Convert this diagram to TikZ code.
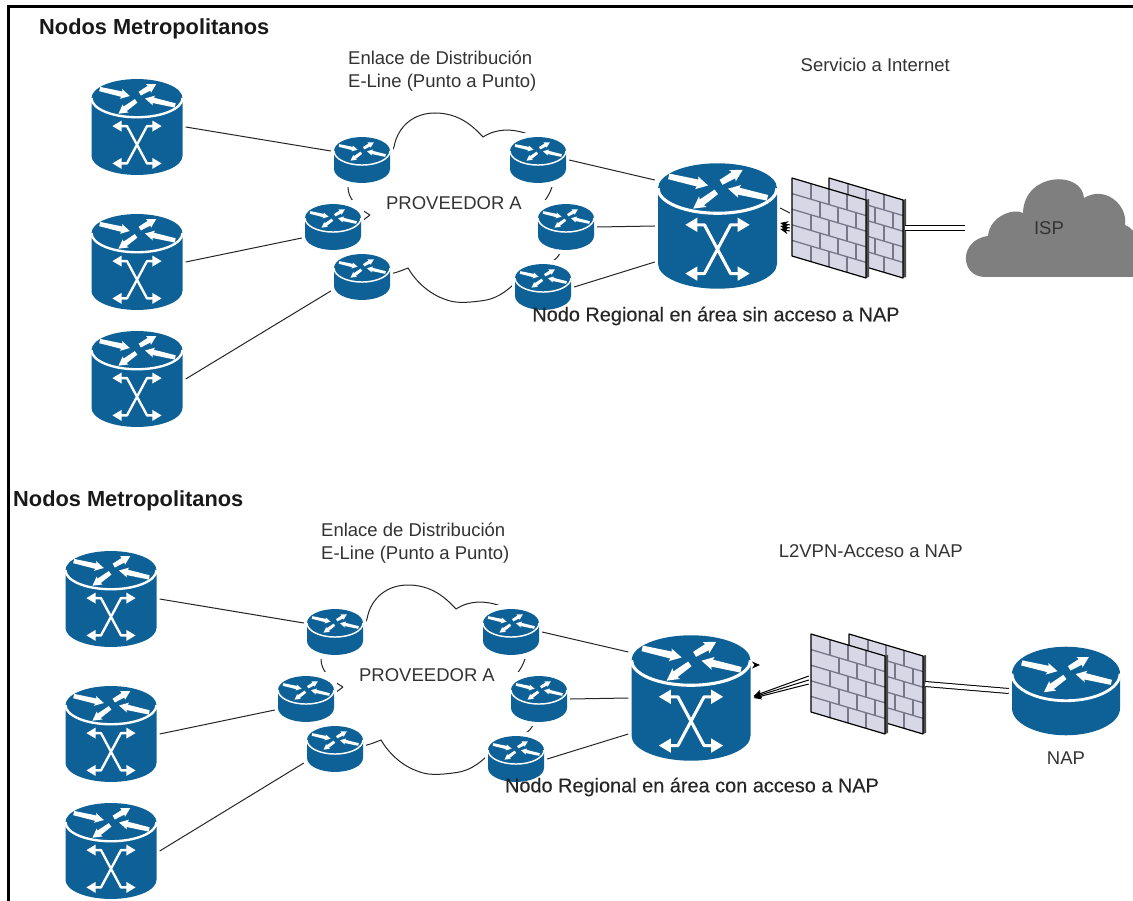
\documentclass[tikz,border=0pt]{standalone}
\usepackage{fontspec}
\setmainfont{Liberation Sans}
\newfontfamily\semibold[FakeBold=0.25]{Liberation Sans}
\usepackage{xcolor}
\usepackage{tikz}
\usetikzlibrary{arrows.meta}

\definecolor{iconblue}{HTML}{0E6196}
\definecolor{wallgray}{HTML}{D7D7E6}
\definecolor{brickgray}{HTML}{77778A}
\definecolor{ispgray}{HTML}{7F7F7F}
\definecolor{labelgray}{HTML}{333333}

% four white arrows on the lid of an icon
\newcommand{\lidarrows}{%
  \foreach \ax/\ay/\ang/\len in {-41/-10/-13/34, 3/-5/30/21, 42/8/167/34, -1/3/216/24} {
    \fill[white, shift={(\ax,\ay)}, rotate=\ang] (0,-2.4) -- (\len-9,-3) -- (\len-10,-5.5) -- (\len,0)
      -- (\len-10,5.5) -- (\len-9,3) -- (0,2.4) -- cycle;
  }%
}
% cylinder: #1 half height between the two ellipse centres, #2 ellipse radius
\newcommand{\iconbody}[2]{%
  \fill[iconblue] (-50,-#1) arc[start angle=180, end angle=0, x radius=50pt, y radius=#2pt]
    -- (50,#1) arc[start angle=0, end angle=-180, x radius=50pt, y radius=#2pt] -- cycle;
  \draw[white, line width=\iconlw] (-50,-#1) arc[start angle=180, end angle=360, x radius=50pt, y radius=#2pt];
  \begin{scope}[shift={(0,-#1)}]
    \lidarrows
  \end{scope}
}
\newcommand{\routericon}[1]{%
  \begin{scope}[scale=#1]
    \pgfmathsetlengthmacro\iconlw{2.6*#1}
    \iconbody{16}{25}
  \end{scope}
}
\newcommand{\switchicon}[1]{%
  \begin{scope}[scale=#1]
    \pgfmathsetlengthmacro\iconlw{2.6*#1}
    \iconbody{31.7}{21}
    % crossing arrows
    \draw[white, line width=\iconlw, line join=round]
      (-20,-1) -- (-11,-1) -- (11,40) -- (20,40) (20,-1) -- (11,-1) -- (-11,40) -- (-20,40);
    \foreach \ax/\ay/\sgn in {-27/-1/1, 27/-1/-1, -27/40/1, 27/40/-1} {
      \fill[white] (\ax,\ay) -- ++(\sgn*10,-6) -- ++(0,12) -- cycle;
    }
  \end{scope}
}
\newcommand{\wallicon}{%
  \begin{scope}[yslant=-0.297]
    \fill[black!70] (37,-39) -- (40,-41) -- (40,37) -- (37,39) -- cycle;
    \fill[wallgray] (-37,-39) rectangle (37,39);
    \foreach \r in {-23.4,-7.8,7.8,23.4}
      \draw[brickgray, line width=1.3pt] (-37,\r) -- (37,\r);
    \foreach \r/\a/\b/\c in {-39/-18/0/18, -23.4/-9/9/27, -7.8/-18/0/18, 7.8/-9/9/27, 23.4/-18/0/18}
      \draw[brickgray, line width=1.3pt] (\a,\r) -- ++(0,15.6) (\b,\r) -- ++(0,15.6) (\c,\r) -- ++(0,15.6);
    \draw[black, line width=1.2pt, line join=round] (-37,-39) rectangle (37,39);
  \end{scope}
}
% outline of the provider cloud
\newcommand{\provcloud}[1]{%
  \draw[shift={#1}, line width=1pt, black!85] (370,215) .. controls (356,207) and (348,198) .. (348,187)
    .. controls (350,175) and (385,170) .. (394,147)
    .. controls (398,125) and (415,113) .. (435,113)
    .. controls (458,113) and (472,125) .. (483,137)
    .. controls (497,128) and (512,129) .. (525,133)
    .. controls (545,140) and (560,165) .. (552,187)
    .. controls (550,193) and (547,198) .. (543,203)
    .. controls (550,215) and (565,240) .. (560,253)
    .. controls (558,257) and (556,259) .. (553,261)
    .. controls (540,272) and (525,280) .. (513,285)
    .. controls (500,297) and (490,300) .. (480,301)
    .. controls (465,303) and (455,303) .. (447,300)
    .. controls (428,294) and (415,280) .. (408,268)
    .. controls (403,270) and (398,272) .. (394,273)
    .. controls (380,275) and (362,262) .. (359,247)
    .. controls (358,238) and (358,226) .. (362,221)
    -- (370,215);
}
\tikzset{
  swpic/.pic={\switchicon{#1}},
  ropic/.pic={\routericon{#1}},
  wallpic/.pic={\wallicon}
}

\begin{document}
\begin{tikzpicture}[
    x=1pt, y=-1pt,
    switch/.style={minimum width=100*#1+6, minimum height=107*#1+6, inner sep=0pt, fill=white,
      append after command={(\tikzlastnode.center) pic {swpic=#1}}},
    router/.style={minimum width=100*#1+6, minimum height=84*#1+6, inner sep=0pt, fill=white,
      append after command={(\tikzlastnode.center) pic {ropic=#1}}},
    wall/.style={minimum width=78, minimum height=106, inner sep=0pt,
      append after command={(\tikzlastnode.center) pic {wallpic}}},
    link/.style={line width=1pt, black!85},
    uplink/.style={double=white, double distance=4pt, line width=1pt, black},
    arrow/.style={-{Stealth[length=8pt,width=7pt]}, line width=1pt, black},
    label/.style={font=\fontsize{18.5}{23}\selectfont, text=labelgray, align=left, inner sep=0pt},
    regional/.style={font=\fontsize{19.9}{24}\semibold, text=black!85, inner sep=0pt},
    title/.style={font=\fontsize{21.8}{26}\selectfont\bfseries, text=black!90, inner sep=0pt, anchor=west}
]
\useasboundingbox (0,0) rectangle (1133,901);
\fill[white] (0,0) rectangle (1133,901);

% Frame
\draw[line width=3pt, black] (8.5,901) |- (1133,6.5);

% Clouds of the providers
\provcloud{(0,0)}
\provcloud{(-27,472)}

% Upper network
\node[title] (titleA) at (39,29) {Nodos Metropolitanos};
\node[label, anchor=west] (linkA) at (348,71) {Enlace de Distribución\\E-Line (Punto a Punto)};
\node[label] (provA) at (454,203) {PROVEEDOR A};
\node[label, anchor=east] (servA) at (950,65) {Servicio a Internet};

\node[switch=.91] (m1) at (137,127) {};
\node[switch=.91] (m2) at (137,262) {};
\node[switch=.91] (m3) at (137,379) {};
\node[router=.56] (p1) at (362,160) {};
\node[router=.56] (p2) at (333,227) {};
\node[router=.56] (p3) at (362,277) {};
\node[router=.56] (p4) at (538,160) {};
\node[router=.56] (p5) at (566,227) {};
\node[router=.56] (p6) at (543,287) {};
\node[switch=1.19] (r1) at (717.5,226) {};
\node[regional] (regA) at (716,316) {Nodo Regional en área sin acceso a NAP};
\node[wall] (wb1) at (866,228) {};
\node[wall] (wf1) at (829,228) {};
\fill[ispgray] (985,277) .. controls (960,277) and (958,240) .. (988,236)
  .. controls (990,215) and (1015,208) .. (1023,213)
  .. controls (1024,172) and (1082,170) .. (1084,198)
  .. controls (1105,185) and (1128,205) .. (1125,225)
  .. controls (1128,226) and (1131,228) .. (1133,231) -- (1133,277) -- cycle;
\node[minimum width=168, minimum height=98, inner sep=0pt, text=labelgray,
  font=\fontsize{18.5}{23}\selectfont] (isp) at (1049,228) {ISP};

\draw[link] (m1.east) -- ([yshift=9pt]p1.west);
\draw[link] (m2.east) -- ([yshift=-11pt]p2.west);
\draw[link] (m3.east) -- ([yshift=-14pt]p3.west);
\draw[link] (p4.east) -- ([yshift=46pt]r1.west);
\draw[link] (p5.east) -- (r1.west);
\draw[link] (p6.east) -- ([yshift=-36pt]r1.west);
\draw[link] ([yshift=18pt]r1.east) -- ([yshift=15pt]wf1.west);
\foreach \dy in {-3,0,3}
  \draw[arrow] ([yshift=\dy pt]wf1.west) -- ([yshift=\dy pt]r1.east);
\draw[uplink] (wb1.east) -- (isp.west);

% Lower network
\node[title] (titleB) at (13,501) {Nodos Metropolitanos};
\node[label, anchor=west] (linkB) at (321,543) {Enlace de Distribución\\E-Line (Punto a Punto)};
\node[label] (provB) at (427,675) {PROVEEDOR A};
\node[label, anchor=east] (servB) at (963,551) {L2VPN-Acceso a NAP};
\node[label] (napB) at (1066,758) {NAP};

\node[switch=.91] (n1) at (111,599) {};
\node[switch=.91] (n2) at (111,734) {};
\node[switch=.91] (n3) at (111,851) {};
\node[router=.56] (q1) at (335,632) {};
\node[router=.56] (q2) at (306,699) {};
\node[router=.56] (q3) at (335,749) {};
\node[router=.56] (q4) at (511,632) {};
\node[router=.56] (q5) at (539,699) {};
\node[router=.56] (q6) at (516,759) {};
\node[switch=1.19] (r2) at (691,698) {};
\node[regional] (regB) at (692,787) {Nodo Regional en área con acceso a NAP};
\node[wall] (wb2) at (886,684) {};
\node[wall] (wf2) at (848,684) {};
\node[router=1.08] (nap) at (1066,691) {};
\coordinate (tick) at (760,665);

\draw[link] (n1.east) -- ([yshift=9pt]q1.west);
\draw[link] (n2.east) -- ([yshift=-11pt]q2.west);
\draw[link] (n3.east) -- ([yshift=-14pt]q3.west);
\draw[link] (q4.east) -- ([yshift=46pt]r2.west);
\draw[link] (q5.east) -- (r2.west);
\draw[link] (q6.east) -- ([yshift=-36pt]r2.west);
\draw[arrow] ([yshift=33pt]r2.east) -- (tick);
\foreach \dy in {0,4,8}
  \draw[arrow] ([yshift=\dy pt]wf2.west) -- ([yshift=\dy/4 pt]r2.east);
\draw[uplink] (wb2.east) -- (nap.west);

\end{tikzpicture}
\end{document}
